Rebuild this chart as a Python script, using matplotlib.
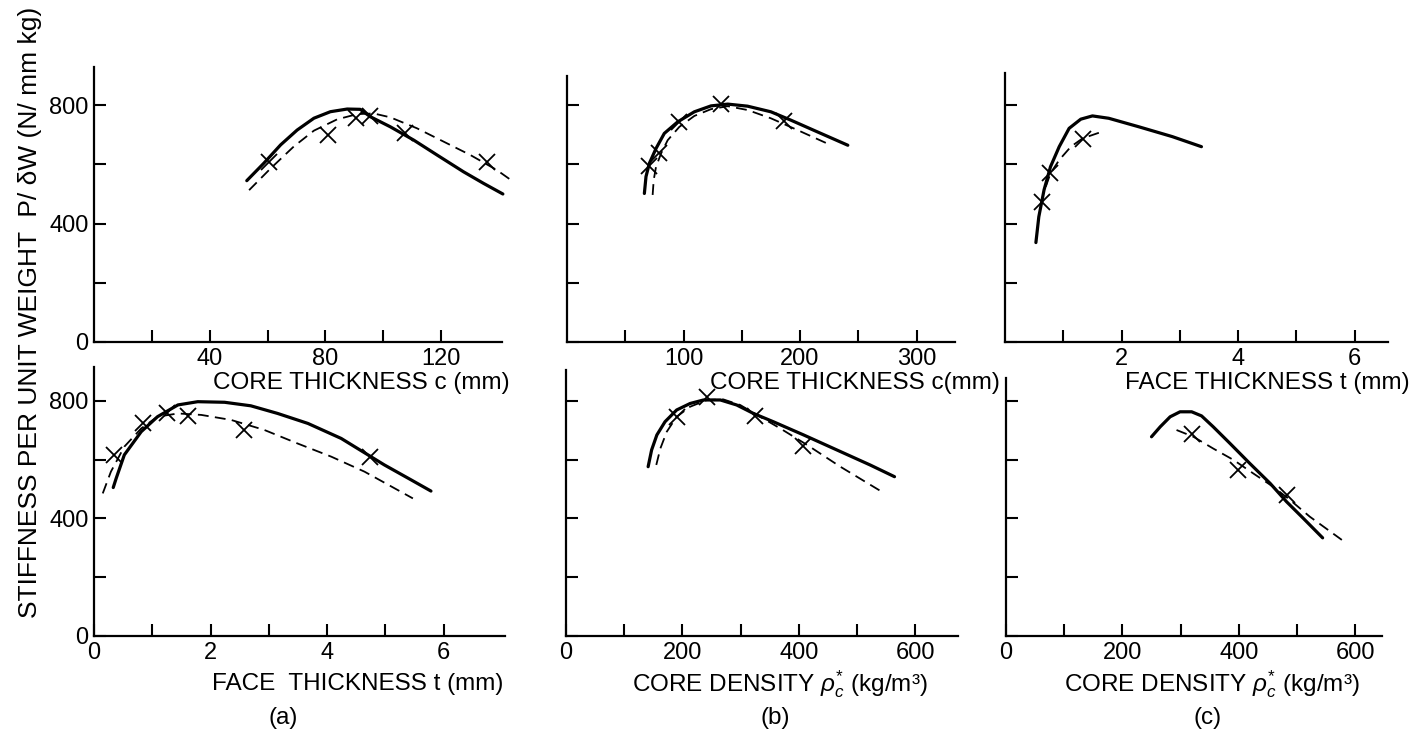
import matplotlib
matplotlib.use("Agg")
import matplotlib.pyplot as plt

plt.rcParams['font.family'] = ['Liberation Sans', 'DejaVu Sans']
plt.rcParams['mathtext.fontset'] = 'custom'
plt.rcParams['mathtext.rm'] = 'Liberation Sans'
plt.rcParams['mathtext.it'] = 'Liberation Sans:italic'

# ---------------- data ----------------
# (a) top: core thickness c (mm)
a_top_solid_x = [52.8, 58.7, 64.5, 70.2, 76, 81.7, 87.5, 92, 95.5, 102.4, 110.5, 118.5, 127.7, 134.6, 141.3]
a_top_solid_y = [545, 604, 666, 716, 756, 778, 787, 786, 761, 727, 682, 632, 575, 536, 500]
a_top_dash_x = [53.6, 61, 69, 76, 84, 91, 96.7, 102.4, 111.6, 120.8, 130, 139.2, 144.4]
a_top_dash_y = [513, 586, 660, 714, 752, 770, 772, 759, 722, 677, 632, 581, 545]
a_top_pts_x = [60.5, 80.8, 90.7, 95.5, 107.6, 135.7]
a_top_pts_y = [609, 699, 756, 764, 707, 609]

# (b) top: core thickness c (mm)
b_top_solid_x = [66.4, 67.8, 70.7, 76.4, 83.5, 95, 109.3, 123.6, 138, 155, 175, 192, 215, 241]
b_top_solid_y = [502, 559, 604, 654, 705, 744, 778, 798, 804, 797, 778, 750, 710, 665]
b_top_dash_x = [73.5, 74.4, 76.4, 80.7, 86.4, 96.4, 109.3, 123.6, 138, 155, 175, 198, 226.6]
b_top_dash_y = [497, 547, 592, 637, 682, 727, 764, 787, 797, 784, 756, 716, 665]
b_top_pts_x = [70.7, 79.3, 96.4, 132, 186.5]
b_top_pts_y = [595, 640, 742, 804, 748]

# (c) top: face thickness t (mm)
c_top_solid_x = [0.53, 0.58, 0.67, 0.78, 0.93, 1.10, 1.30, 1.50, 1.78, 2.30, 2.87, 3.37]
c_top_solid_y = [336, 423, 514, 592, 660, 722, 753, 764, 756, 727, 694, 660]
c_top_dash_x = [0.70, 0.78, 0.93, 1.13, 1.33, 1.61]
c_top_dash_y = [525, 570, 615, 660, 688, 707]
c_top_pts_x = [0.64, 0.78, 1.34]
c_top_pts_y = [474, 572, 685]

# (a) bottom: face thickness t (mm)
a_bot_solid_x = [0.33, 0.38, 0.52, 0.81, 1.09, 1.44, 1.78, 2.24, 2.69, 3.15, 3.67, 4.24, 4.98, 5.44, 5.78]
a_bot_solid_y = [505, 536, 616, 695, 746, 786, 797, 795, 783, 757, 723, 672, 582, 531, 493]
a_bot_dash_x = [0.15, 0.29, 0.52, 0.81, 1.09, 1.44, 1.84, 2.35, 2.92, 3.49, 4.07, 4.64, 5.47]
a_bot_dash_y = [485, 559, 644, 706, 746, 757, 752, 735, 701, 655, 610, 559, 468]
a_bot_pts_x = [0.35, 0.84, 1.26, 1.61, 2.58, 4.74]
a_bot_pts_y = [616, 723, 757, 749, 701, 610]

# (b) bottom: core density (kg/m3)
b_bot_solid_x = [141, 147, 156, 170, 190, 213, 236, 265, 293, 322, 356, 408, 465, 522, 564]
b_bot_solid_y = [576, 633, 684, 729, 769, 791, 803, 803, 786, 757, 729, 684, 633, 582, 542]
b_bot_dash_x = [155, 162, 173, 190, 213, 242, 270, 299, 328, 368, 414, 471, 542]
b_bot_dash_y = [582, 638, 695, 746, 780, 803, 805, 786, 752, 706, 650, 576, 491]
b_bot_pts_x = [190, 242, 325, 407]
b_bot_pts_y = [746, 812, 748, 647]

# (c) bottom: core density (kg/m3)
c_bot_solid_x = [250, 265, 282, 299, 319, 336, 356, 385, 419, 454, 482, 511, 544]
c_bot_solid_y = [678, 712, 746, 763, 763, 749, 712, 655, 587, 519, 457, 400, 334]
c_bot_dash_x = [293, 322, 356, 391, 425, 459, 488, 522, 577]
c_bot_dash_y = [701, 678, 638, 599, 553, 508, 463, 406, 327]
c_bot_pts_x = [319, 399, 482]
c_bot_pts_y = [686, 565, 480]

# tick values and labels
y_ticks = [0, 200, 400, 600, 800]
y_ticklabels_left = ['0', '', '400', '', '800']
y_ticklabels_none = ['', '', '', '', '']
a_top_xticks = [20, 40, 60, 80, 100, 120]
a_top_xlabels = ['', '40', '', '80', '', '120']
b_top_xticks = [50, 100, 150, 200, 250, 300]
b_top_xlabels = ['', '100', '', '200', '', '300']
c_top_xticks = [1, 2, 3, 4, 5, 6]
c_top_xlabels = ['', '2', '', '4', '', '6']
a_bot_xticks = [0, 1, 2, 3, 4, 5, 6]
a_bot_xlabels = ['0', '', '2', '', '4', '', '6']
bc_bot_xticks = [0, 100, 200, 300, 400, 500, 600]
bc_bot_xlabels = ['0', '', '200', '', '400', '', '600']

xlabel_core_a = 'CORE THICKNESS c (mm)'
xlabel_core_b = 'CORE THICKNESS c(mm)'
xlabel_face_top = 'FACE THICKNESS t (mm)'
xlabel_face_bot = 'FACE  THICKNESS t (mm)'
xlabel_density = r'CORE DENSITY $\rho_c^{*}$ (kg/m³)'
ylabel_text = 'STIFFNESS PER UNIT WEIGHT  P/ δW (N/ mm kg)'
panel_labels = ['(a)', '(b)', '(c)']

# ---------------- figure ----------------
W, H = 1418, 733
fig = plt.figure(figsize=(W / 100, H / 100), dpi=100)
fig.patch.set_facecolor('white')

TICK_FS = 17
LABEL_FS = 17.5


def panel(box, xmax, xt, xtl, ytl, solid, dash, pts):
    l, r, b, t, ymax = box
    ax = fig.add_axes([l / W, 1 - b / H, (r - l) / W, (b - t) / H])
    ax.set_xlim(0, xmax)
    ax.set_ylim(0, ymax)
    for s in ['top', 'right']:
        ax.spines[s].set_visible(False)
    for s in ['left', 'bottom']:
        ax.spines[s].set_linewidth(1.6)
    ax.set_xticks(xt)
    ax.set_xticklabels(xtl)
    ax.set_yticks(y_ticks)
    ax.set_yticklabels(ytl)
    ax.tick_params(axis='both', direction='in', length=8.5, width=1.5,
                   labelsize=TICK_FS, colors='black')
    ax.tick_params(axis='x', pad=4)
    ax.tick_params(axis='y', pad=4)
    ax.patch.set_alpha(0)
    ax.plot(solid[0], solid[1], color='black', lw=2.3, solid_capstyle='round',
            clip_on=False)
    ax.plot(dash[0], dash[1], color='black', lw=1.3, dashes=(6, 3.5),
            clip_on=False)
    ax.plot(pts[0], pts[1], linestyle='none', marker='x', markersize=12,
            markeredgewidth=1.3, color='black', clip_on=False)
    return ax


panel((94, 502, 342, 67, 929), 141, a_top_xticks, a_top_xlabels, y_ticklabels_left,
      (a_top_solid_x, a_top_solid_y), (a_top_dash_x, a_top_dash_y), (a_top_pts_x, a_top_pts_y))
panel((567, 955, 342, 76, 899), 333, b_top_xticks, b_top_xlabels, y_ticklabels_none,
      (b_top_solid_x, b_top_solid_y), (b_top_dash_x, b_top_dash_y), (b_top_pts_x, b_top_pts_y))
panel((1005, 1388, 342, 73, 909), 6.57, c_top_xticks, c_top_xlabels, y_ticklabels_none,
      (c_top_solid_x, c_top_solid_y), (c_top_dash_x, c_top_dash_y), (c_top_pts_x, c_top_pts_y))
panel((94, 505, 636, 367, 915), 7.05, a_bot_xticks, a_bot_xlabels, y_ticklabels_left,
      (a_bot_solid_x, a_bot_solid_y), (a_bot_dash_x, a_bot_dash_y), (a_bot_pts_x, a_bot_pts_y))
panel((566, 958, 636, 370, 905), 673, bc_bot_xticks, bc_bot_xlabels, y_ticklabels_none,
      (b_bot_solid_x, b_bot_solid_y), (b_bot_dash_x, b_bot_dash_y), (b_bot_pts_x, b_bot_pts_y))
panel((1006, 1382, 636, 378, 878), 646, bc_bot_xticks, bc_bot_xlabels, y_ticklabels_none,
      (c_bot_solid_x, c_bot_solid_y), (c_bot_dash_x, c_bot_dash_y), (c_bot_pts_x, c_bot_pts_y))


def ftext(x, y, s, **kw):
    fig.text(x / W, 1 - y / H, s, ha='center', va='center', color='black', **kw)


ftext(361, 383, xlabel_core_a, fontsize=LABEL_FS)
ftext(855, 383, xlabel_core_b, fontsize=LABEL_FS)
ftext(1267, 383, xlabel_face_top, fontsize=LABEL_FS)
ftext(358, 684, xlabel_face_bot, fontsize=LABEL_FS)
ftext(780, 684, xlabel_density, fontsize=LABEL_FS)
ftext(1212, 684, xlabel_density, fontsize=LABEL_FS)
for xx, lab in zip([283, 775, 1208], panel_labels):
    ftext(xx, 718, lab, fontsize=LABEL_FS)
ftext(30, 312, ylabel_text, fontsize=19, rotation=90)

fig.savefig('out.png', dpi=100, facecolor='white')
